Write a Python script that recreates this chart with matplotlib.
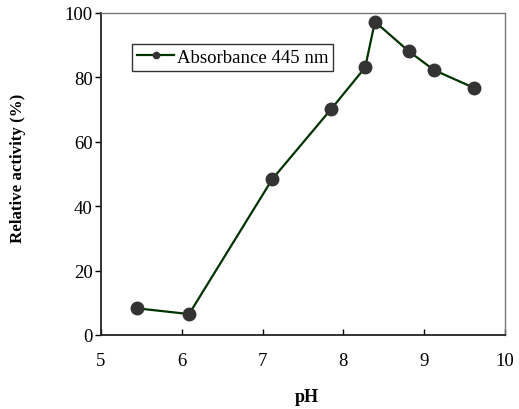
import numpy as np
import matplotlib
matplotlib.use("Agg")
import matplotlib.pyplot as plt
from matplotlib.ticker import MultipleLocator

plt.rcParams['font.family'] = ['Liberation Serif', 'DejaVu Serif']

# data
ph = [5.44, 6.09, 7.12, 7.85, 8.27, 8.39, 8.81, 9.12, 9.62]
activity = [8.3, 6.5, 48.4, 70.2, 83.1, 97.3, 88.1, 82.3, 76.7]
series_label = "Absorbance 445 nm"

fig = plt.figure(figsize=(5.19, 4.10), dpi=100)
ax = fig.add_axes([0.1946, 0.1805, 0.7784, 0.7854])

ax.plot(ph, activity, color="#003300", linewidth=1.6, marker="o",
        markersize=9, markerfacecolor="#333333", markeredgecolor="#333333",
        label=series_label, zorder=3)

ax.set_xlim(5, 10)
ax.set_ylim(0, 100)
ax.xaxis.set_major_locator(MultipleLocator(1))
ax.yaxis.set_major_locator(MultipleLocator(20))
ax.tick_params(axis='x', direction='in', length=4, width=1, labelsize=13.5, pad=12)
ax.tick_params(axis='y', direction='out', length=4, width=1, labelsize=13.5, pad=2)

for s in ['left', 'bottom']:
    ax.spines[s].set_linewidth(1.3)
    ax.spines[s].set_color('#222222')
for s in ['top', 'right']:
    ax.spines[s].set_linewidth(1.0)
    ax.spines[s].set_color('#777777')

ax.set_xlabel("pH", fontweight='bold', fontsize=13)
ax.xaxis.set_label_coords(0.51, -0.165)
ax.set_ylabel("Relative activity (%)", fontweight='bold', fontsize=12.2)
ax.yaxis.set_label_coords(-0.185, 0.52)

leg = ax.legend(loc='upper left', bbox_to_anchor=(0.077, 0.903), fontsize=13.5,
                markerscale=0.5, handlelength=2.0, handletextpad=0.15,
                frameon=True, fancybox=False, borderpad=0.25, borderaxespad=0)
leg.get_frame().set_edgecolor('black')
leg.get_frame().set_linewidth(1.0)

fig.savefig("out.png", dpi=100)
